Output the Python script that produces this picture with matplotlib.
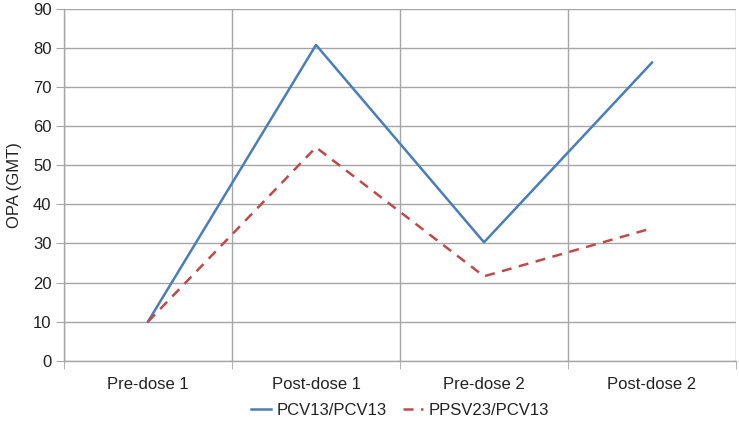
import matplotlib.pyplot as plt
import numpy as np

plt.rcParams['font.family'] = ['Liberation Sans', 'DejaVu Sans']

categories = ['Pre-dose 1', 'Post-dose 1', 'Pre-dose 2', 'Post-dose 2']
pcv13_pcv13 = [10.0, 80.8, 30.3, 76.3]
ppsv23_pcv13 = [10.0, 54.6, 21.6, 33.9]

grid_col = '#a6a6a6'
fs = 12
fig = plt.figure(figsize=(7.39, 4.26), dpi=100)
ax = fig.add_axes([64/739, 1 - 360.7/426, 672/739, (360.7 - 9)/426])

x = np.arange(len(categories))
ax.plot(x, pcv13_pcv13, color='#4a7ebb', lw=1.8, label='PCV13/PCV13')
ax.plot(x, ppsv23_pcv13, color='#be4b48', lw=1.8, ls=(0, (4, 3)), label='PPSV23/PCV13')

ax.set_xlim(-0.5, len(categories) - 0.5)
ax.set_ylim(0, 90)
ax.set_yticks(np.arange(0, 91, 10))
ax.set_xticks(x)
ax.set_xticklabels(categories)
ax.set_xticks(np.arange(-0.5, len(categories)), minor=True)

ax.grid(True, axis='y', color=grid_col, lw=1)
ax.grid(True, axis='x', which='minor', color=grid_col, lw=1)
ax.set_axisbelow(True)
for s in ['top', 'right']:
    ax.spines[s].set_visible(False)
for s in ['left', 'bottom']:
    ax.spines[s].set_color(grid_col)
    ax.spines[s].set_linewidth(1)

ax.tick_params(axis='x', which='major', length=0, labelsize=fs, pad=12, colors='#222222')
ax.tick_params(axis='x', which='minor', length=6, color=grid_col)
ax.tick_params(axis='y', length=6, color=grid_col, labelsize=fs, labelcolor='#222222', pad=3)
ax.set_ylabel('OPA (GMT)', fontsize=fs, color='#222222', labelpad=8)

leg = ax.legend(loc='upper center', bbox_to_anchor=(0.5, -0.078), ncol=2, frameon=False,
                fontsize=fs, handlelength=1.2, handletextpad=0.3, columnspacing=1.0)
for t in leg.get_texts():
    t.set_color('#222222')

plt.savefig('out.png', dpi=100)
